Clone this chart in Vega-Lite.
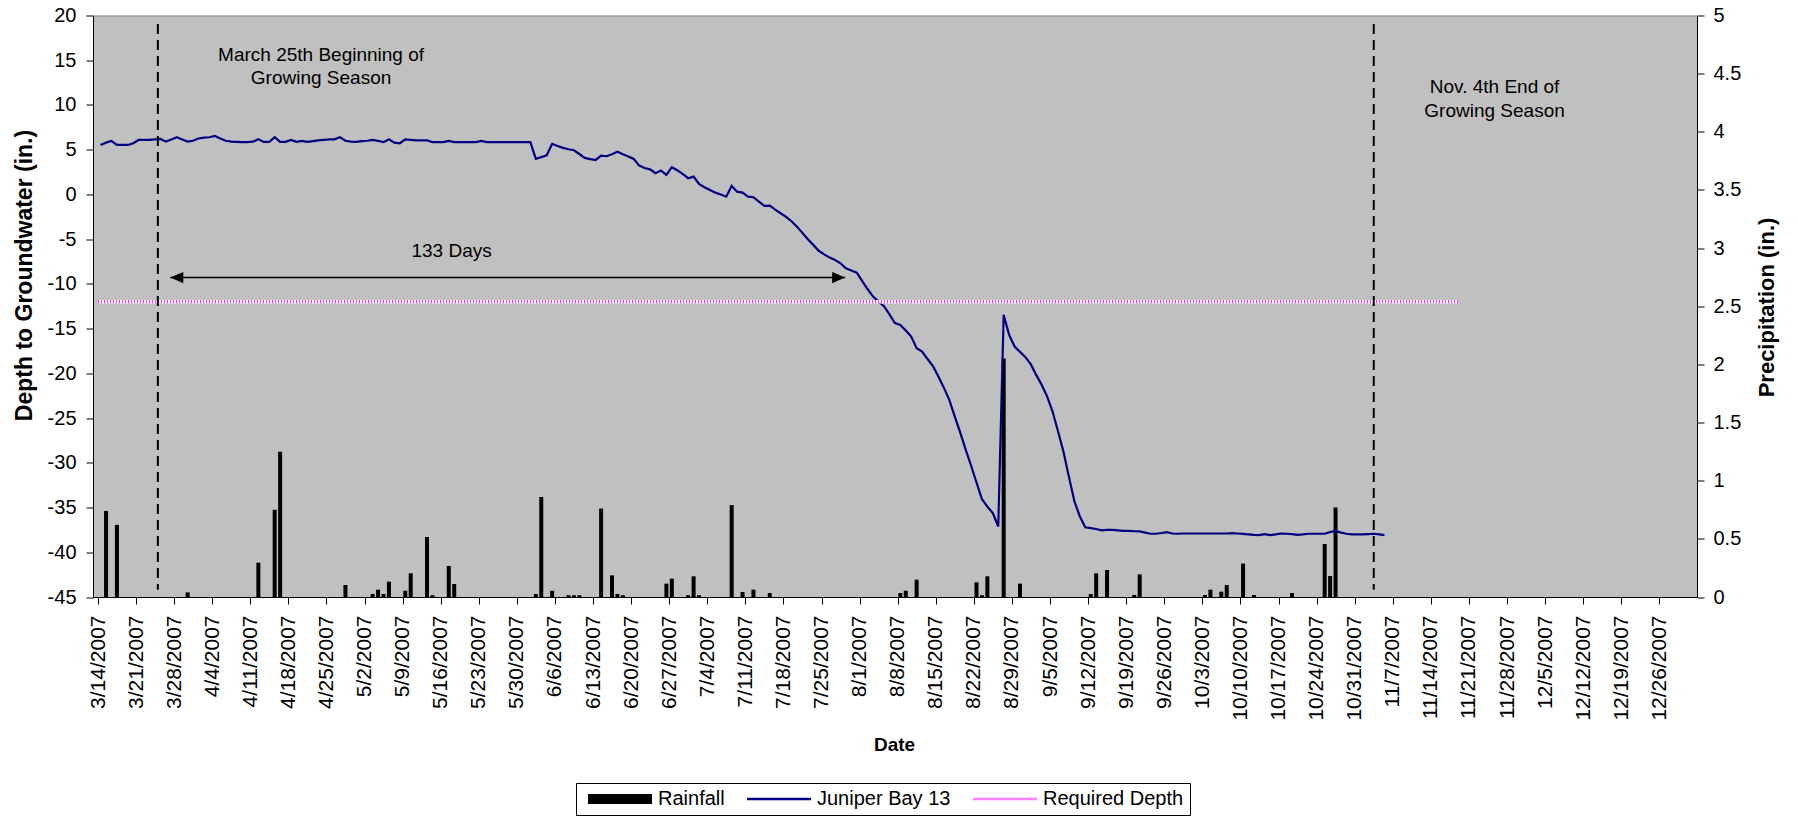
{
  "$schema": "https://vega.github.io/schema/vega-lite/v6.json",
  "width": 1604,
  "height": 581.5,
  "autosize": {"type": "none"},
  "padding": {"left": 93, "top": 15.5, "right": 101, "bottom": 220},
  "background": "white",
  "config": {
    "font": "Liberation Sans",
    "view": {"fill": "#C0C0C0", "stroke": "#808080", "strokeWidth": 1},
    "axis": {"grid": false, "domainColor": "#000000", "tickColor": "#000000", "labelColor": "#000000", "titleColor": "#000000", "labelFont": "Liberation Sans", "titleFont": "Liberation Sans", "tickSize": 7, "domainWidth": 1, "tickWidth": 1}
  },
  "datasets": {
    "rain": [
      {"date": "2007/03/15", "in": 0.74}, {"date": "2007/03/17", "in": 0.62}, {"date": "2007/03/30", "in": 0.04},
      {"date": "2007/04/12", "in": 0.295}, {"date": "2007/04/15", "in": 0.75}, {"date": "2007/04/16", "in": 1.25},
      {"date": "2007/04/28", "in": 0.103}, {"date": "2007/05/03", "in": 0.026}, {"date": "2007/05/04", "in": 0.063},
      {"date": "2007/05/05", "in": 0.026}, {"date": "2007/05/06", "in": 0.132}, {"date": "2007/05/09", "in": 0.054},
      {"date": "2007/05/10", "in": 0.204}, {"date": "2007/05/13", "in": 0.516}, {"date": "2007/05/14", "in": 0.015},
      {"date": "2007/05/17", "in": 0.267}, {"date": "2007/05/18", "in": 0.112}, {"date": "2007/06/02", "in": 0.026},
      {"date": "2007/06/03", "in": 0.86}, {"date": "2007/06/05", "in": 0.054}, {"date": "2007/06/08", "in": 0.015},
      {"date": "2007/06/09", "in": 0.015}, {"date": "2007/06/10", "in": 0.015}, {"date": "2007/06/14", "in": 0.76},
      {"date": "2007/06/16", "in": 0.186}, {"date": "2007/06/17", "in": 0.026}, {"date": "2007/06/18", "in": 0.015},
      {"date": "2007/06/26", "in": 0.115}, {"date": "2007/06/27", "in": 0.158}, {"date": "2007/06/30", "in": 0.015},
      {"date": "2007/07/01", "in": 0.178}, {"date": "2007/07/02", "in": 0.015}, {"date": "2007/07/08", "in": 0.79},
      {"date": "2007/07/10", "in": 0.043}, {"date": "2007/07/12", "in": 0.063}, {"date": "2007/07/15", "in": 0.034},
      {"date": "2007/08/08", "in": 0.034}, {"date": "2007/08/09", "in": 0.054}, {"date": "2007/08/11", "in": 0.149},
      {"date": "2007/08/22", "in": 0.126}, {"date": "2007/08/23", "in": 0.015}, {"date": "2007/08/24", "in": 0.178},
      {"date": "2007/08/27", "in": 2.05}, {"date": "2007/08/30", "in": 0.115}, {"date": "2007/09/12", "in": 0.026},
      {"date": "2007/09/13", "in": 0.204}, {"date": "2007/09/15", "in": 0.232}, {"date": "2007/09/20", "in": 0.017},
      {"date": "2007/09/21", "in": 0.195}, {"date": "2007/10/03", "in": 0.017}, {"date": "2007/10/04", "in": 0.063},
      {"date": "2007/10/06", "in": 0.046}, {"date": "2007/10/07", "in": 0.103}, {"date": "2007/10/10", "in": 0.287},
      {"date": "2007/10/12", "in": 0.017}, {"date": "2007/10/19", "in": 0.034}, {"date": "2007/10/25", "in": 0.456},
      {"date": "2007/10/26", "in": 0.181}, {"date": "2007/10/27", "in": 0.77}
    ],
    "gw": [
      {"date": "2007/03/14", "v": 5.53}, {"date": "2007/03/15", "v": 5.79}, {"date": "2007/03/16", "v": 5.98}, {"date": "2007/03/17", "v": 5.53},
      {"date": "2007/03/18", "v": 5.53}, {"date": "2007/03/19", "v": 5.53}, {"date": "2007/03/20", "v": 5.72}, {"date": "2007/03/21", "v": 6.09},
      {"date": "2007/03/22", "v": 6.09}, {"date": "2007/03/23", "v": 6.09}, {"date": "2007/03/24", "v": 6.15}, {"date": "2007/03/25", "v": 6.2},
      {"date": "2007/03/26", "v": 5.9}, {"date": "2007/03/27", "v": 6.15}, {"date": "2007/03/28", "v": 6.39}, {"date": "2007/03/29", "v": 6.15},
      {"date": "2007/03/30", "v": 5.9}, {"date": "2007/03/31", "v": 6.0},
      {"date": "2007/04/01", "v": 6.25}, {"date": "2007/04/02", "v": 6.35}, {"date": "2007/04/03", "v": 6.39}, {"date": "2007/04/04", "v": 6.54},
      {"date": "2007/04/05", "v": 6.25}, {"date": "2007/04/06", "v": 6.0}, {"date": "2007/04/07", "v": 5.9}, {"date": "2007/04/08", "v": 5.87},
      {"date": "2007/04/09", "v": 5.84}, {"date": "2007/04/10", "v": 5.84}, {"date": "2007/04/11", "v": 5.9}, {"date": "2007/04/12", "v": 6.16},
      {"date": "2007/04/13", "v": 5.87}, {"date": "2007/04/14", "v": 5.87}, {"date": "2007/04/15", "v": 6.39}, {"date": "2007/04/16", "v": 5.87},
      {"date": "2007/04/17", "v": 5.87}, {"date": "2007/04/18", "v": 6.09}, {"date": "2007/04/19", "v": 5.87}, {"date": "2007/04/20", "v": 5.98},
      {"date": "2007/04/21", "v": 5.87}, {"date": "2007/04/22", "v": 5.95}, {"date": "2007/04/23", "v": 6.05}, {"date": "2007/04/24", "v": 6.1},
      {"date": "2007/04/25", "v": 6.16}, {"date": "2007/04/26", "v": 6.16}, {"date": "2007/04/27", "v": 6.39}, {"date": "2007/04/28", "v": 6.0},
      {"date": "2007/04/29", "v": 5.9}, {"date": "2007/04/30", "v": 5.87},
      {"date": "2007/05/01", "v": 5.95}, {"date": "2007/05/02", "v": 6.0}, {"date": "2007/05/03", "v": 6.09}, {"date": "2007/05/04", "v": 5.98},
      {"date": "2007/05/05", "v": 5.84}, {"date": "2007/05/06", "v": 6.16}, {"date": "2007/05/07", "v": 5.79}, {"date": "2007/05/08", "v": 5.72},
      {"date": "2007/05/09", "v": 6.16}, {"date": "2007/05/10", "v": 6.1}, {"date": "2007/05/11", "v": 6.05}, {"date": "2007/05/12", "v": 6.05},
      {"date": "2007/05/13", "v": 6.05}, {"date": "2007/05/14", "v": 5.84}, {"date": "2007/05/15", "v": 5.84}, {"date": "2007/05/16", "v": 5.84},
      {"date": "2007/05/17", "v": 5.98}, {"date": "2007/05/18", "v": 5.84}, {"date": "2007/05/19", "v": 5.84}, {"date": "2007/05/20", "v": 5.84},
      {"date": "2007/05/21", "v": 5.84}, {"date": "2007/05/22", "v": 5.84}, {"date": "2007/05/23", "v": 5.98}, {"date": "2007/05/24", "v": 5.84},
      {"date": "2007/05/25", "v": 5.84}, {"date": "2007/05/26", "v": 5.84}, {"date": "2007/05/27", "v": 5.84}, {"date": "2007/05/28", "v": 5.84},
      {"date": "2007/05/29", "v": 5.84}, {"date": "2007/05/30", "v": 5.84}, {"date": "2007/05/31", "v": 5.84},
      {"date": "2007/06/01", "v": 5.84}, {"date": "2007/06/02", "v": 3.97}, {"date": "2007/06/03", "v": 4.17}, {"date": "2007/06/04", "v": 4.38},
      {"date": "2007/06/05", "v": 5.66}, {"date": "2007/06/06", "v": 5.42}, {"date": "2007/06/07", "v": 5.2}, {"date": "2007/06/08", "v": 5.05},
      {"date": "2007/06/09", "v": 4.94}, {"date": "2007/06/10", "v": 4.52}, {"date": "2007/06/11", "v": 4.08}, {"date": "2007/06/12", "v": 3.95},
      {"date": "2007/06/13", "v": 3.85}, {"date": "2007/06/14", "v": 4.34}, {"date": "2007/06/15", "v": 4.27}, {"date": "2007/06/16", "v": 4.5},
      {"date": "2007/06/17", "v": 4.78}, {"date": "2007/06/18", "v": 4.5}, {"date": "2007/06/19", "v": 4.25}, {"date": "2007/06/20", "v": 3.97},
      {"date": "2007/06/21", "v": 3.22}, {"date": "2007/06/22", "v": 2.95}, {"date": "2007/06/23", "v": 2.8}, {"date": "2007/06/24", "v": 2.37},
      {"date": "2007/06/25", "v": 2.66}, {"date": "2007/06/26", "v": 2.18}, {"date": "2007/06/27", "v": 3.04}, {"date": "2007/06/28", "v": 2.7},
      {"date": "2007/06/29", "v": 2.3}, {"date": "2007/06/30", "v": 1.81},
      {"date": "2007/07/01", "v": 1.99}, {"date": "2007/07/02", "v": 1.17}, {"date": "2007/07/03", "v": 0.8}, {"date": "2007/07/04", "v": 0.5},
      {"date": "2007/07/05", "v": 0.2}, {"date": "2007/07/06", "v": 0.0}, {"date": "2007/07/07", "v": -0.25}, {"date": "2007/07/08", "v": 0.95},
      {"date": "2007/07/09", "v": 0.31}, {"date": "2007/07/10", "v": 0.2}, {"date": "2007/07/11", "v": -0.25}, {"date": "2007/07/12", "v": -0.31},
      {"date": "2007/07/13", "v": -0.8}, {"date": "2007/07/14", "v": -1.28}, {"date": "2007/07/15", "v": -1.25}, {"date": "2007/07/16", "v": -1.7},
      {"date": "2007/07/17", "v": -2.1}, {"date": "2007/07/18", "v": -2.5}, {"date": "2007/07/19", "v": -3.0}, {"date": "2007/07/20", "v": -3.6},
      {"date": "2007/07/21", "v": -4.3}, {"date": "2007/07/22", "v": -5.0}, {"date": "2007/07/23", "v": -5.64}, {"date": "2007/07/24", "v": -6.3},
      {"date": "2007/07/25", "v": -6.7}, {"date": "2007/07/26", "v": -7.06}, {"date": "2007/07/27", "v": -7.32}, {"date": "2007/07/28", "v": -7.7},
      {"date": "2007/07/29", "v": -8.25}, {"date": "2007/07/30", "v": -8.5}, {"date": "2007/07/31", "v": -8.74},
      {"date": "2007/08/01", "v": -9.7}, {"date": "2007/08/02", "v": -10.6}, {"date": "2007/08/03", "v": -11.42}, {"date": "2007/08/04", "v": -12.0},
      {"date": "2007/08/05", "v": -12.5}, {"date": "2007/08/06", "v": -13.4}, {"date": "2007/08/07", "v": -14.39}, {"date": "2007/08/08", "v": -14.58},
      {"date": "2007/08/09", "v": -15.2}, {"date": "2007/08/10", "v": -15.89}, {"date": "2007/08/11", "v": -17.18}, {"date": "2007/08/12", "v": -17.56},
      {"date": "2007/08/13", "v": -18.4}, {"date": "2007/08/14", "v": -19.2}, {"date": "2007/08/15", "v": -20.36}, {"date": "2007/08/16", "v": -21.6},
      {"date": "2007/08/17", "v": -22.96}, {"date": "2007/08/18", "v": -24.8}, {"date": "2007/08/19", "v": -26.6}, {"date": "2007/08/20", "v": -28.5},
      {"date": "2007/08/21", "v": -30.3}, {"date": "2007/08/22", "v": -32.2}, {"date": "2007/08/23", "v": -34.06}, {"date": "2007/08/24", "v": -34.9},
      {"date": "2007/08/25", "v": -35.62}, {"date": "2007/08/26", "v": -37.12}, {"date": "2007/08/27", "v": -13.46}, {"date": "2007/08/28", "v": -15.7},
      {"date": "2007/08/29", "v": -17.0}, {"date": "2007/08/30", "v": -17.6}, {"date": "2007/08/31", "v": -18.19},
      {"date": "2007/09/01", "v": -19.0}, {"date": "2007/09/02", "v": -20.2}, {"date": "2007/09/03", "v": -21.3}, {"date": "2007/09/04", "v": -22.6},
      {"date": "2007/09/05", "v": -24.3}, {"date": "2007/09/06", "v": -26.5}, {"date": "2007/09/07", "v": -28.8}, {"date": "2007/09/08", "v": -31.6},
      {"date": "2007/09/09", "v": -34.3}, {"date": "2007/09/10", "v": -36.0}, {"date": "2007/09/11", "v": -37.2}, {"date": "2007/09/12", "v": -37.3},
      {"date": "2007/09/13", "v": -37.4}, {"date": "2007/09/14", "v": -37.55}, {"date": "2007/09/15", "v": -37.5}, {"date": "2007/09/16", "v": -37.5},
      {"date": "2007/09/17", "v": -37.55}, {"date": "2007/09/18", "v": -37.6}, {"date": "2007/09/19", "v": -37.6}, {"date": "2007/09/20", "v": -37.65},
      {"date": "2007/09/21", "v": -37.67}, {"date": "2007/09/22", "v": -37.8}, {"date": "2007/09/23", "v": -37.93}, {"date": "2007/09/24", "v": -37.93},
      {"date": "2007/09/25", "v": -37.85}, {"date": "2007/09/26", "v": -37.75}, {"date": "2007/09/27", "v": -37.9}, {"date": "2007/09/28", "v": -37.93},
      {"date": "2007/09/29", "v": -37.9}, {"date": "2007/09/30", "v": -37.9},
      {"date": "2007/10/01", "v": -37.9}, {"date": "2007/10/02", "v": -37.9}, {"date": "2007/10/03", "v": -37.9}, {"date": "2007/10/04", "v": -37.9},
      {"date": "2007/10/05", "v": -37.9}, {"date": "2007/10/06", "v": -37.9}, {"date": "2007/10/07", "v": -37.9}, {"date": "2007/10/08", "v": -37.85},
      {"date": "2007/10/09", "v": -37.9}, {"date": "2007/10/10", "v": -37.95}, {"date": "2007/10/11", "v": -38.0}, {"date": "2007/10/12", "v": -38.05},
      {"date": "2007/10/13", "v": -38.08}, {"date": "2007/10/14", "v": -37.97}, {"date": "2007/10/15", "v": -38.08}, {"date": "2007/10/16", "v": -38.0},
      {"date": "2007/10/17", "v": -37.9}, {"date": "2007/10/18", "v": -37.93}, {"date": "2007/10/19", "v": -37.97}, {"date": "2007/10/20", "v": -38.05},
      {"date": "2007/10/21", "v": -38.0}, {"date": "2007/10/22", "v": -37.93}, {"date": "2007/10/23", "v": -37.93}, {"date": "2007/10/24", "v": -37.93},
      {"date": "2007/10/25", "v": -37.93}, {"date": "2007/10/26", "v": -37.75}, {"date": "2007/10/27", "v": -37.6}, {"date": "2007/10/28", "v": -37.8},
      {"date": "2007/10/29", "v": -37.93}, {"date": "2007/10/30", "v": -38.0}, {"date": "2007/10/31", "v": -38.0},
      {"date": "2007/11/01", "v": -38.0}, {"date": "2007/11/02", "v": -37.97}, {"date": "2007/11/03", "v": -37.93}, {"date": "2007/11/04", "v": -38.0},
      {"date": "2007/11/05", "v": -38.08}
    ],
    "req": [{"date": "2007/03/14", "date2": "2007/11/19", "v": -12}],
    "vlines": [
      {"date": "2007/03/25", "v": 19.05, "v2": -44.2},
      {"date": "2007/11/03 12:00", "v": 19.05, "v2": -44.2}
    ],
    "arrow": [{"date": "2007/03/27 07:00", "date2": "2007/07/29 08:00", "v": -9.3}],
    "heads": [
      {"date": "2007/03/27 07:00", "v": -9.3, "side": "L"},
      {"date": "2007/07/29 08:00", "v": -9.3, "side": "R"}
    ],
    "notes": [
      {"date": "2007/04/24", "v": 14.92, "label": "March 25th Beginning of"},
      {"date": "2007/04/24", "v": 12.29, "label": "Growing Season"},
      {"date": "2007/11/25 17:00", "v": 11.37, "label": "Nov. 4th End of"},
      {"date": "2007/11/25 17:00", "v": 8.69, "label": "Growing Season"},
      {"date": "2007/05/18", "v": -6.95, "label": "133 Days"}
    ]
  },
  "encoding": {
    "x": {
      "field": "date",
      "type": "temporal",
      "scale": {"domain": [{"year": 2007, "month": 3, "date": 14}, {"year": 2008, "month": 1, "date": 1}]},
      "axis": {
        "values": [
          {"year": 2007, "month": 3, "date": 14}, {"year": 2007, "month": 3, "date": 21}, {"year": 2007, "month": 3, "date": 28},
          {"year": 2007, "month": 4, "date": 4}, {"year": 2007, "month": 4, "date": 11}, {"year": 2007, "month": 4, "date": 18}, {"year": 2007, "month": 4, "date": 25},
          {"year": 2007, "month": 5, "date": 2}, {"year": 2007, "month": 5, "date": 9}, {"year": 2007, "month": 5, "date": 16}, {"year": 2007, "month": 5, "date": 23}, {"year": 2007, "month": 5, "date": 30},
          {"year": 2007, "month": 6, "date": 6}, {"year": 2007, "month": 6, "date": 13}, {"year": 2007, "month": 6, "date": 20}, {"year": 2007, "month": 6, "date": 27},
          {"year": 2007, "month": 7, "date": 4}, {"year": 2007, "month": 7, "date": 11}, {"year": 2007, "month": 7, "date": 18}, {"year": 2007, "month": 7, "date": 25},
          {"year": 2007, "month": 8, "date": 1}, {"year": 2007, "month": 8, "date": 8}, {"year": 2007, "month": 8, "date": 15}, {"year": 2007, "month": 8, "date": 22}, {"year": 2007, "month": 8, "date": 29},
          {"year": 2007, "month": 9, "date": 5}, {"year": 2007, "month": 9, "date": 12}, {"year": 2007, "month": 9, "date": 19}, {"year": 2007, "month": 9, "date": 26},
          {"year": 2007, "month": 10, "date": 3}, {"year": 2007, "month": 10, "date": 10}, {"year": 2007, "month": 10, "date": 17}, {"year": 2007, "month": 10, "date": 24}, {"year": 2007, "month": 10, "date": 31},
          {"year": 2007, "month": 11, "date": 7}, {"year": 2007, "month": 11, "date": 14}, {"year": 2007, "month": 11, "date": 21}, {"year": 2007, "month": 11, "date": 28},
          {"year": 2007, "month": 12, "date": 5}, {"year": 2007, "month": 12, "date": 12}, {"year": 2007, "month": 12, "date": 19}, {"year": 2007, "month": 12, "date": 26}
        ],
        "format": "%-m/%-d/%Y",
        "labelAngle": 270,
        "labelAlign": "right",
        "labelBaseline": "middle",
        "labelPadding": 11,
        "labelFontSize": 21,
        "labelOverlap": false,
        "labelFlush": false,
        "title": "Date",
        "titleFontSize": 19,
        "titleFontWeight": "bold",
        "titleX": 801,
        "titleY": 147,
        "titleAlign": "center",
        "titleBaseline": "middle"
      }
    }
  },
  "layer": [
    {
      "data": {"name": "rain"},
      "mark": {"type": "bar", "width": 4, "xOffset": 2.6},
      "encoding": {
        "y": {
          "field": "in",
          "type": "quantitative",
          "scale": {"domain": [0, 5], "nice": false, "zero": true},
          "axis": {
            "orient": "right",
            "values": [0, 0.5, 1, 1.5, 2, 2.5, 3, 3.5, 4, 4.5, 5],
            "format": "~g",
            "labelFontSize": 20,
            "labelPadding": 9,
            "labelBaseline": "middle",
            "title": "Precipitation (in.)",
            "titleFontSize": 22,
            "titleFontWeight": "bold",
            "titleAngle": 270,
            "titleX": 69,
            "titleY": 291.5,
            "titleAlign": "center",
            "titleBaseline": "middle"
          }
        },
        "color": {
          "datum": "Rainfall",
          "type": "nominal",
          "scale": {"domain": ["Rainfall", "Juniper Bay 13", "Required Depth"], "range": ["#000000", "#000080", "#FF80FF"]},
          "legend": {
            "orient": "none",
            "legendX": 483,
            "legendY": 767.5,
            "direction": "horizontal",
            "title": null,
            "symbolSize": 144,
            "symbolStrokeWidth": 0,
            "symbolOffset": 28,
            "labelOffset": 28,
            "columnPadding": 16,
            "labelFont": "Liberation Sans",
            "labelFontSize": 20,
            "labelColor": "#000000",
            "strokeColor": "#000000",
            "fillColor": "#FFFFFF",
            "padding": 6,
            "encode": {
              "symbols": {
                "update": {
                  "shape": {"signal": "datum.value === 'Rainfall' ? 'M-5.33,-0.83H5.33V0.83H-5.33Z' : 'M-5.33,-0.21H5.33V0.21H-5.33Z'"}
                }
              }
            }
          }
        }
      }
    },
    {
      "encoding": {
        "y": {
          "field": "v",
          "type": "quantitative",
          "scale": {"domain": [-45, 20], "nice": false, "zero": false},
          "axis": {
            "orient": "left",
            "values": [-45, -40, -35, -30, -25, -20, -15, -10, -5, 0, 5, 10, 15, 20],
            "labelExpr": "datum.value < 0 ? '-' + abs(datum.value) : '' + datum.value",
            "labelFontSize": 20,
            "labelPadding": 10,
            "labelBaseline": "middle",
            "title": "Depth to Groundwater (in.)",
            "titleFontSize": 23,
            "titleFontWeight": "bold",
            "titleAngle": 270,
            "titleX": -69,
            "titleY": 259.5,
            "titleAlign": "center",
            "titleBaseline": "middle"
          }
        }
      },
      "layer": [
        {
          "data": {"name": "gw"},
          "mark": {"type": "line", "color": "#000080", "strokeWidth": 2.2, "xOffset": 2.6},
          "encoding": {}
        },
        {
          "data": {"name": "req"},
          "mark": {"type": "rule", "color": "#FFFFFF", "strokeWidth": 3.5},
          "encoding": {"x2": {"field": "date2"}}
        },
        {
          "data": {"name": "req"},
          "mark": {"type": "rule", "color": "#FF33FF", "strokeWidth": 3.5, "strokeDash": [1, 2]},
          "encoding": {"x2": {"field": "date2"}}
        },
        {
          "data": {"name": "vlines"},
          "mark": {"type": "rule", "color": "#000000", "strokeWidth": 2, "strokeDash": [10, 6]},
          "encoding": {"y2": {"field": "v2"}}
        },
        {
          "data": {"name": "arrow"},
          "mark": {"type": "rule", "color": "#000000", "strokeWidth": 1.5},
          "encoding": {"x2": {"field": "date2"}}
        },
        {
          "data": {"name": "heads"},
          "mark": {"type": "point", "filled": true, "color": "#000000", "opacity": 1, "size": 169, "strokeWidth": 0},
          "encoding": {
            "shape": {
              "field": "side",
              "type": "nominal",
              "scale": {"domain": ["L", "R"], "range": ["M0,0L2,-0.85L2,0.85Z", "M0,0L-2,-0.85L-2,0.85Z"]},
              "legend": null
            }
          }
        },
        {
          "data": {"name": "notes"},
          "mark": {"type": "text", "align": "center", "baseline": "alphabetic", "font": "Liberation Sans", "fontSize": 19, "color": "#000000"},
          "encoding": {"text": {"field": "label"}}
        }
      ]
    }
  ],
  "resolve": {"scale": {"y": "independent"}, "axis": {"y": "independent"}}
}
